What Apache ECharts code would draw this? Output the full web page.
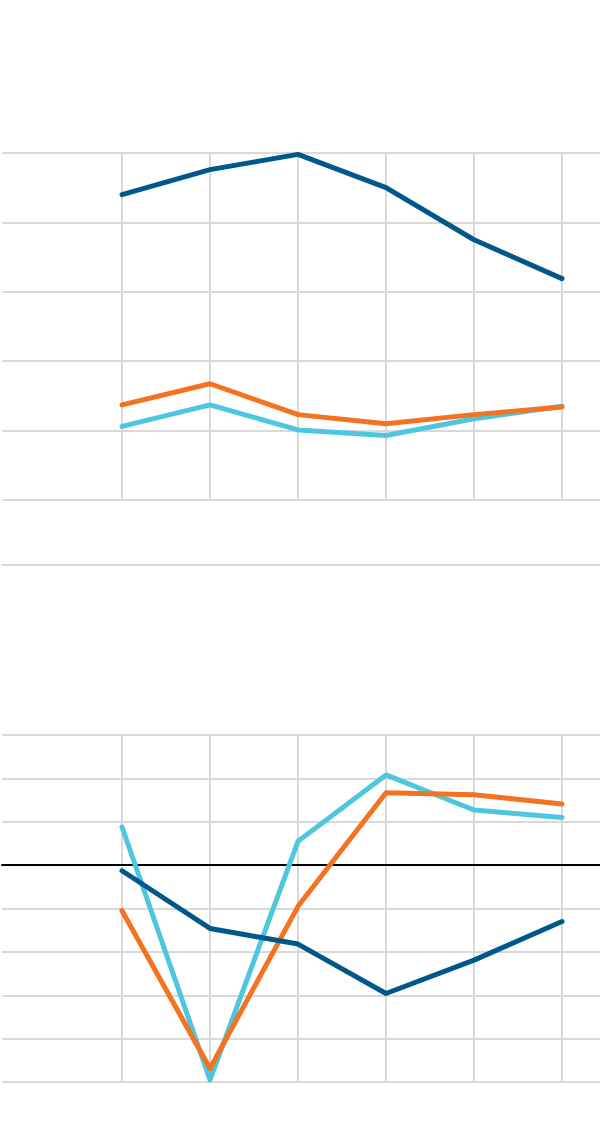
<!DOCTYPE html>
<html>
<head>
<meta charset="utf-8">
<script src="https://cdn.jsdelivr.net/npm/echarts@6/dist/echarts.min.js"></script>
<style>
html,body{margin:0;padding:0;background:#fff;}
#chart{width:600px;height:1134px;}
</style>
</head>
<body>
<div id="chart"></div>
<script>
// Categories (not labelled in the reference)
const categories = ['1', '2', '3', '4', '5', '6'];
const seriesNames = ['Series A', 'Series B', 'Series C'];

// Top panel values
const topDark   = [44.0, 47.6, 49.8, 45.0, 37.5, 31.9];
const topOrange = [13.7, 16.75, 12.3, 11.0, 12.3, 13.4];
const topLight  = [10.6, 13.7, 10.1, 9.3, 11.7, 13.5];

// Bottom panel values
const botDark   = [-0.13, -1.46, -1.82, -2.96, -2.19, -1.30];
const botOrange = [-1.05, -4.69, -0.95, 1.67, 1.62, 1.41];
const botLight  = [0.88, -4.95, 0.55, 2.08, 1.27, 1.10];

const colDark = '#00588a', colOrange = '#f37321', colLight = '#4fc6df';
const gridCol = '#d9d9d9';

const chart = echarts.init(document.getElementById('chart'), null, {renderer: 'canvas'});

function hiddenParts() {
  return { axisLabel: {show: false}, axisTick: {show: false} };
}
function line(name, data, color, xi) {
  return {
    name: name, type: 'line', xAxisIndex: xi, yAxisIndex: xi, data: data,
    symbol: 'none', animation: false,
    lineStyle: {color: color, width: 5, cap: 'round', join: 'round'},
    itemStyle: {color: color}
  };
}

const option = {
  backgroundColor: '#ffffff',
  animation: false,
  grid: [
    {left: 2, right: 0, top: 153, height: 347},   // 0 top: horizontal lines
    {left: 122, width: 440, top: 153, height: 347}, // 1 top: vertical lines + data
    {left: 2, right: 0, top: 735, height: 347},   // 2 bottom: horizontal lines
    {left: 122, width: 440, top: 735, height: 347}  // 3 bottom: vertical lines + data
  ],
  xAxis: [
    Object.assign({gridIndex: 0, type: 'value', min: 0, max: 1, offset: 65,
      axisLine: {show: true, onZero: false, lineStyle: {color: gridCol, width: 2}},
      splitLine: {show: false}}, hiddenParts()),
    Object.assign({gridIndex: 1, type: 'category', data: categories, boundaryGap: false,
      axisLine: {show: false},
      splitLine: {show: true, lineStyle: {color: gridCol, width: 2}}}, hiddenParts()),
    Object.assign({gridIndex: 2, type: 'value', min: 0, max: 1,
      axisLine: {show: true, onZero: true, lineStyle: {color: '#000000', width: 2}},
      splitLine: {show: false}}, hiddenParts()),
    Object.assign({gridIndex: 3, type: 'category', data: categories, boundaryGap: false,
      axisLine: {show: false},
      splitLine: {show: true, lineStyle: {color: gridCol, width: 2}}}, hiddenParts())
  ],
  yAxis: [
    Object.assign({gridIndex: 0, type: 'value', min: 0, max: 50, interval: 10,
      axisLine: {show: false},
      splitLine: {show: true, lineStyle: {color: gridCol, width: 2}}}, hiddenParts()),
    {gridIndex: 1, type: 'value', min: 0, max: 50, interval: 10, show: false},
    Object.assign({gridIndex: 2, type: 'value', min: -5, max: 3, interval: 1,
      axisLine: {show: false},
      splitLine: {show: true, lineStyle: {color: gridCol, width: 2}}}, hiddenParts()),
    {gridIndex: 3, type: 'value', min: -5, max: 3, interval: 1, show: false}
  ],
  series: [
    line(seriesNames[2], topLight, colLight, 1),
    line(seriesNames[1], topOrange, colOrange, 1),
    line(seriesNames[0], topDark, colDark, 1),
    line(seriesNames[2], botLight, colLight, 3),
    line(seriesNames[1], botOrange, colOrange, 3),
    line(seriesNames[0], botDark, colDark, 3)
  ]
};
chart.setOption(option);
</script>
</body>
</html>
